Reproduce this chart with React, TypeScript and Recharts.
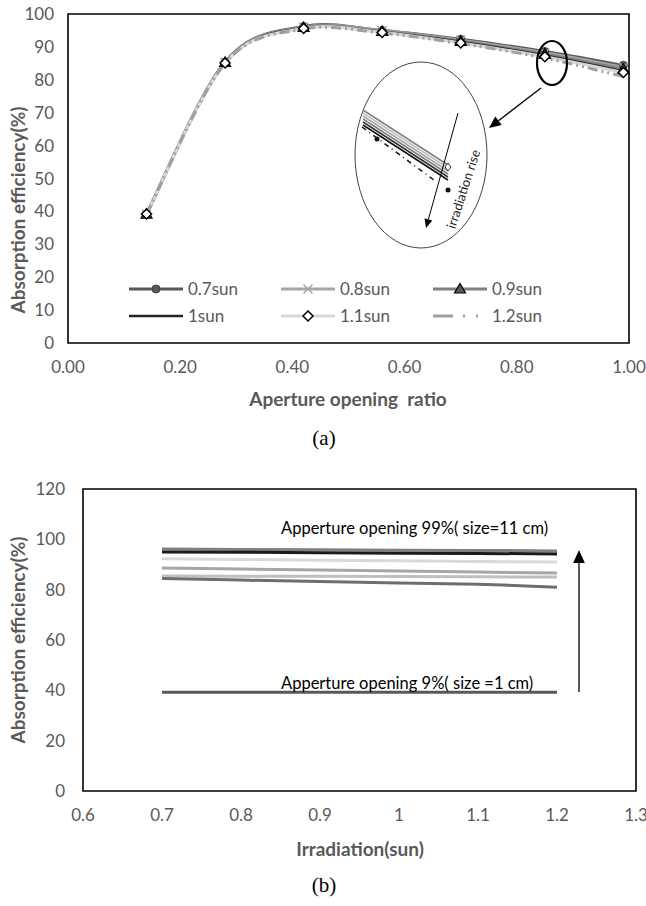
import React from 'react';
import { LineChart, Line, XAxis, YAxis, ReferenceArea, Legend } from 'recharts';

// aperture opening ratio (x of chart a) and irradiation (x of chart b)
const apertureRatios = [0.14, 0.28, 0.42, 0.56, 0.7, 0.85, 0.99];
const irradiations = [0.7, 0.8, 0.9, 1.0, 1.1, 1.2];
const sunNames = ['0.7sun', '0.8sun', '0.9sun', '1sun', '1.1sun', '1.2sun'];

// absorption efficiency (%) per irradiation, one value per aperture ratio
const eff07 = [39.2, 85.4, 96.2, 95.0, 92.3, 88.6, 84.4];
const eff08 = [39.2, 85.3, 96.0, 94.9, 92.0, 88.2, 83.8];
const eff09 = [39.2, 85.3, 95.9, 94.7, 91.7, 87.8, 83.2];
const eff10 = [39.2, 85.2, 95.7, 94.5, 91.5, 87.4, 82.6];
const eff11 = [39.2, 85.1, 95.6, 94.4, 91.2, 87.0, 82.2];
const eff12 = [39.2, 85.0, 95.4, 94.2, 91.0, 86.6, 81.0];

const xTicksA = [0, 0.2, 0.4, 0.6, 0.8, 1];
const yTicksA = [0, 10, 20, 30, 40, 50, 60, 70, 80, 90, 100];
const xTicksB = [0.6, 0.7, 0.8, 0.9, 1, 1.1, 1.2, 1.3];
const yTicksB = [0, 20, 40, 60, 80, 100, 120];

const effBySun = [eff07, eff08, eff09, eff10, eff11, eff12];

type MarkerKind = 'circle' | 'x' | 'triangle' | 'diamond' | 'none';

const seriesA: { key: string; color: string; width: number; marker: MarkerKind; dash?: string }[] = [
  { key: 's07', color: '#595959', width: 3, marker: 'circle' },
  { key: 's08', color: '#a6a6a6', width: 3, marker: 'x' },
  { key: 's09', color: '#808080', width: 3, marker: 'triangle' },
  { key: 's10', color: '#262626', width: 2.5, marker: 'none' },
  { key: 's11', color: '#d9d9d9', width: 3, marker: 'diamond' },
  { key: 's12', color: '#a0a0a0', width: 3, marker: 'none', dash: '10 4 2 4 2 4' },
];

const apertureColors = ['#595959', '#bfbfbf', '#808080', '#1a1a1a', '#d9d9d9', '#a6a6a6', '#6e6e6e'];

const dataA = apertureRatios.map((x, j) => {
  const row: any = { x };
  seriesA.forEach((s, i) => (row[s.key] = effBySun[i][j]));
  return row;
});

const dataB = irradiations.map((irr, i) => {
  const row: any = { irr };
  apertureRatios.forEach((_, j) => (row[`ap${j}`] = effBySun[i][j]));
  return row;
});

// Excel-like smoothed line (Catmull-Rom through the points)
function excelSmooth(context: any) {
  let pts: number[][] = [];
  return {
    areaStart() {},
    areaEnd() {},
    lineStart() {
      pts = [];
    },
    point(x: number, y: number) {
      pts.push([+x, +y]);
    },
    lineEnd() {
      if (!pts.length) return;
      context.moveTo(pts[0][0], pts[0][1]);
      for (let i = 0; i < pts.length - 1; i++) {
        const p0 = pts[i - 1] || pts[i];
        const p1 = pts[i];
        const p2 = pts[i + 1];
        const p3 = pts[i + 2] || p2;
        context.bezierCurveTo(
          p1[0] + (p2[0] - p0[0]) / 6,
          p1[1] + (p2[1] - p0[1]) / 6,
          p2[0] - (p3[0] - p1[0]) / 6,
          p2[1] - (p3[1] - p1[1]) / 6,
          p2[0],
          p2[1]
        );
      }
    },
  };
}

function Marker({ kind, cx, cy }: { kind: MarkerKind; cx?: number; cy?: number }) {
  if (cx == null || cy == null) return null;
  switch (kind) {
    case 'circle':
      return <circle cx={cx} cy={cy} r={4} fill="#595959" stroke="#3f3f3f" strokeWidth={1} />;
    case 'x':
      return (
        <path
          d={`M${cx - 4.5},${cy - 4.5}L${cx + 4.5},${cy + 4.5}M${cx - 4.5},${cy + 4.5}L${cx + 4.5},${cy - 4.5}`}
          stroke="#a6a6a6"
          strokeWidth={1.5}
          fill="none"
        />
      );
    case 'triangle':
      return <path d={`M${cx},${cy - 5.5}L${cx + 5.5},${cy + 4}L${cx - 5.5},${cy + 4}Z`} fill="#595959" stroke="#000" strokeWidth={1.2} />;
    case 'diamond':
      return <path d={`M${cx},${cy - 5}L${cx + 5},${cy}L${cx},${cy + 5}L${cx - 5},${cy}Z`} fill="#fff" stroke="#000" strokeWidth={1.5} />;
    default:
      return null;
  }
}

const tickA = { fill: '#595959', fontSize: 17, fontFamily: 'Lato' };
const tickB = { fill: '#595959', fontSize: 17, fontFamily: 'Lato' };
const titleStyle = { fill: '#595959', fontSize: 19, fontFamily: 'Lato', fontWeight: 700, whiteSpace: 'pre' } as const;

const renderLegendA = () => (
  <div
    style={{
      display: 'grid',
      gridTemplateColumns: 'repeat(3, 152px)',
      fontFamily: 'Lato',
      fontSize: 17,
      color: '#595959',
    }}
  >
    {seriesA.map((s, i) => (
      <div key={s.key} style={{ display: 'flex', alignItems: 'center', height: 27 }}>
        <svg width={54} height={14} style={{ overflow: 'visible' }}>
          <line x1={0} y1={7} x2={54} y2={7} stroke={s.color} strokeWidth={s.width} strokeDasharray={s.dash ? '20 10 2 11 2 11' : undefined} />
          <Marker kind={s.marker} cx={27} cy={7} />
        </svg>
        <span style={{ marginLeft: 5 }}>{sunNames[i]}</span>
      </div>
    ))}
  </div>
);

function Arrow({ x1, y1, x2, y2, w = 1.3, head = 11 }: { x1: number; y1: number; x2: number; y2: number; w?: number; head?: number }) {
  const a = Math.atan2(y2 - y1, x2 - x1);
  const bx = x2 - head * Math.cos(a);
  const by = y2 - head * Math.sin(a);
  const hw = head * 0.45;
  const px = -Math.sin(a) * hw;
  const py = Math.cos(a) * hw;
  return (
    <g>
      <line x1={x1} y1={y1} x2={bx} y2={by} stroke="#000" strokeWidth={w} />
      <path d={`M${x2},${y2}L${bx + px},${by + py}L${bx - px},${by - py}Z`} fill="#000" />
    </g>
  );
}

export default function App() {
  return (
    <div style={{ position: 'absolute', left: 0, top: 0, width: 646, height: 906, background: '#fff' }}>
      <div style={{ position: 'absolute', left: 0, top: 0 }}>
        <LineChart width={646} height={410} data={dataA} margin={{ top: 14, right: 17, bottom: 7, left: 28 }}>
          <XAxis
            dataKey="x"
            type="number"
            domain={[0, 1]}
            ticks={xTicksA}
            interval={0}
            tickFormatter={(v: number) => v.toFixed(2)}
            tick={tickA}
            tickLine={false}
            tickSize={0}
            tickMargin={18}
            axisLine={false}
            height={60}
          />
          <YAxis
            type="number"
            domain={[0, 100]}
            ticks={yTicksA}
            interval={0}
            tick={tickA}
            tickLine={false}
            tickSize={0}
            tickMargin={14}
            axisLine={false}
            width={40}
          />
          <ReferenceArea x1={0} x2={1} y1={0} y2={100} fill="none" stroke="#000" strokeWidth={1.6} ifOverflow="visible" />
          {seriesA.map((s, i) => (
            <Line
              key={s.key}
              dataKey={s.key}
              name={sunNames[i]}
              type={excelSmooth as any}
              stroke={s.color}
              strokeWidth={s.width}
              strokeDasharray={s.dash}
              dot={(p: any) => <Marker key={`${s.key}-${p.index}`} kind={s.marker} cx={p.cx} cy={p.cy} />}
              activeDot={false}
              isAnimationActive={false}
            />
          ))}
          <Legend
            layout="vertical"
            verticalAlign="middle"
            align="center"
            content={renderLegendA}
            wrapperStyle={{ left: 129, top: 275, width: 460 }}
          />
        </LineChart>
      </div>

      <div style={{ position: 'absolute', left: 0, top: 460 }}>
        <LineChart width={646} height={446} data={dataB} margin={{ top: 29, right: 10, bottom: 55, left: 43 }}>
          <XAxis
            dataKey="irr"
            type="number"
            domain={[0.6, 1.3]}
            ticks={xTicksB}
            interval={0}
            tickFormatter={(v: number) => String(Number(v.toFixed(1)))}
            tick={tickB}
            tickLine={false}
            tickSize={0}
            tickMargin={18}
            axisLine={false}
            height={60}
          />
          <YAxis
            type="number"
            domain={[0, 120]}
            ticks={yTicksB}
            interval={0}
            tick={tickB}
            tickLine={false}
            tickSize={0}
            tickMargin={18}
            axisLine={false}
            width={40}
          />
          <ReferenceArea x1={0.6} x2={1.3} y1={0} y2={120} fill="none" stroke="#000" strokeWidth={1.6} ifOverflow="visible" />
          {apertureRatios.map((_, j) => (
            <Line
              key={`ap${j}`}
              dataKey={`ap${j}`}
              type="linear"
              stroke={apertureColors[j]}
              strokeWidth={3}
              dot={false}
              activeDot={false}
              isAnimationActive={false}
            />
          ))}
        </LineChart>
      </div>

      {/* titles and annotations */}
      <svg width={646} height={906} style={{ position: 'absolute', left: 0, top: 0, pointerEvents: 'none' }}>
        <text x={17} y={210} transform="rotate(-90 17 210)" textAnchor="middle" dominantBaseline="central" style={titleStyle}>
          Absorption efficiency(%)
        </text>
        <text x={348} y={398} textAnchor="middle" dominantBaseline="central" xmlSpace="preserve" style={titleStyle}>
          Aperture opening  ratio
        </text>
        <text x={324} y={445} textAnchor="middle" style={{ fontFamily: 'Liberation Serif', fontSize: 21, fill: '#000' }}>
          (a)
        </text>

        {/* zoom annotation of chart a */}
        <ellipse cx={552} cy={63} rx={15} ry={22} fill="none" stroke="#000" strokeWidth={2.2} />
        <Arrow x1={541} y1={88} x2={489} y2={128} w={1.3} head={12} />
        <ellipse cx={421} cy={155} rx={66} ry={93} fill="none" stroke="#444" strokeWidth={1} />
        {['#808080', '#bfbfbf', '#a6a6a6', '#808080', '#333', '#111'].map((c, k) => (
          <line key={k} x1={363} y1={110 + k * 3} x2={448} y2={165 + k * 3} stroke={c} strokeWidth={1.5} />
        ))}
        <line x1={362} y1={127} x2={434} y2={180} stroke="#111" strokeWidth={1.5} strokeDasharray="5 4 1 4" />
        <circle cx={377} cy={139} r={2.5} fill="#111" />
        <circle cx={448} cy={190} r={2.5} fill="#111" />
        <path d="M448,163L451,167L448,171L445,167Z" fill="#fff" stroke="#333" strokeWidth={1} />
        <Arrow x1={458} y1={113} x2={426} y2={228} w={1} head={9} />
        <text x={463} y={189} transform="rotate(-72 463 189)" textAnchor="middle" dominantBaseline="central" style={{ fontFamily: 'Lato', fontSize: 13, fill: '#222' }}>
          irradiation rise
        </text>

        <text x={17} y={640} transform="rotate(-90 17 640)" textAnchor="middle" dominantBaseline="central" style={titleStyle}>
          Absorption efficiency(%)
        </text>
        <text x={360} y={848} textAnchor="middle" dominantBaseline="central" style={titleStyle}>
          Irradiation(sun)
        </text>
        <text x={324} y={892} textAnchor="middle" style={{ fontFamily: 'Liberation Serif', fontSize: 21, fill: '#000' }}>
          (b)
        </text>

        <text x={281} y={534} style={{ fontFamily: 'Lato', fontSize: 16.5, fill: '#000' }}>
          Apperture opening 99%( size=11 cm)
        </text>
        <text x={281} y={689} style={{ fontFamily: 'Lato', fontSize: 16.5, fill: '#000' }}>
          Apperture opening 9%( size =1 cm)
        </text>
        <Arrow x1={579} y1={692} x2={579} y2={550} w={1.3} head={13} />
      </svg>
    </div>
  );
}
